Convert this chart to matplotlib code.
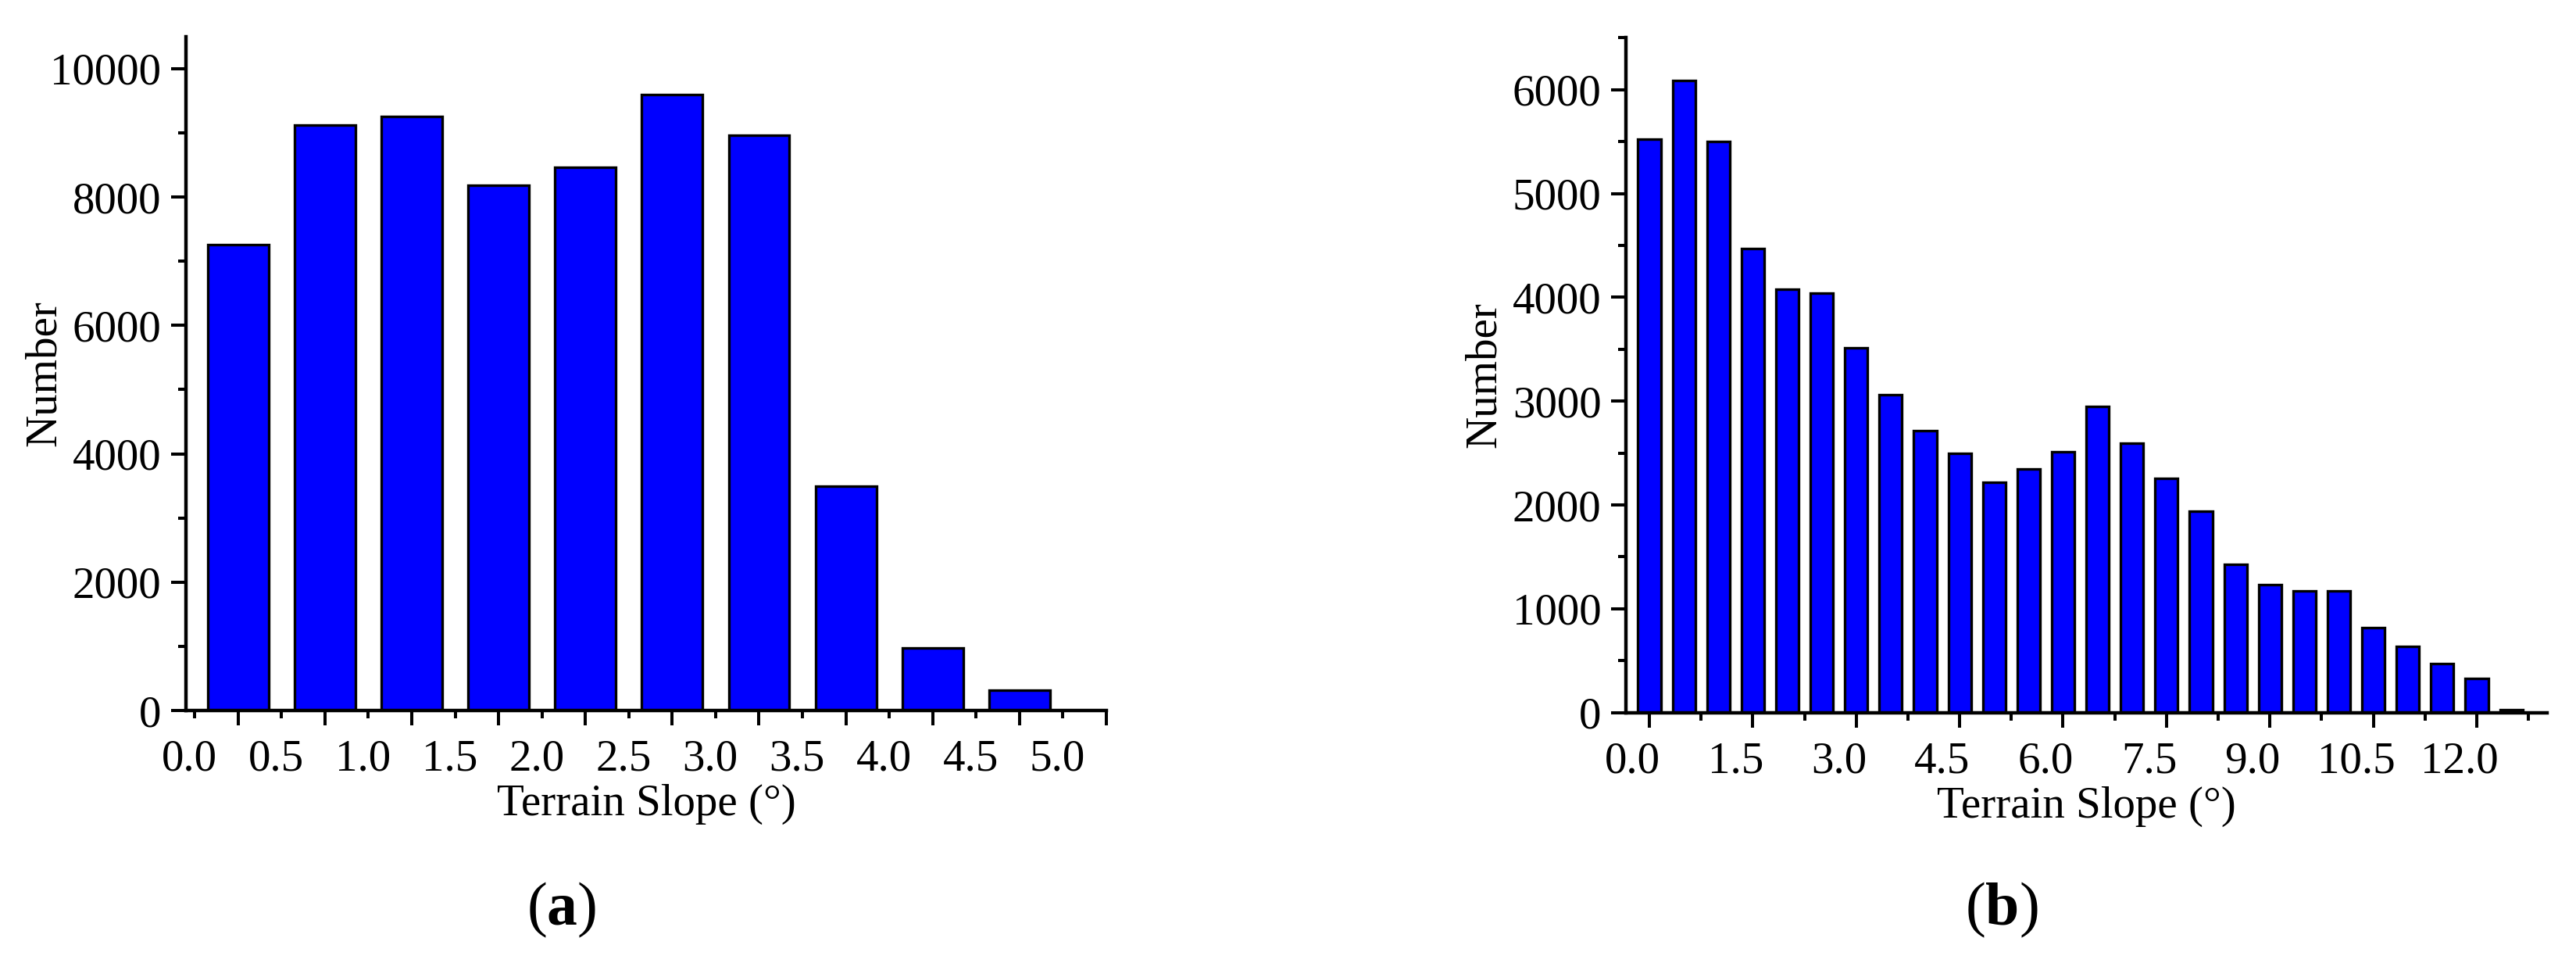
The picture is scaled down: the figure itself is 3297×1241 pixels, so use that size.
import matplotlib
matplotlib.use("Agg")
import matplotlib.pyplot as plt
from matplotlib.transforms import offset_copy

plt.rcParams['font.family'] = ['Liberation Serif', 'DejaVu Serif']
plt.rcParams['mathtext.fontset'] = 'custom'
plt.rcParams['mathtext.rm'] = 'Liberation Serif'
plt.rcParams['mathtext.bf'] = 'Liberation Serif:bold'

# (a) terrain slope histogram, 0.5 degree bins
slope_a = [0.25, 0.75, 1.25, 1.75, 2.25, 2.75, 3.25, 3.75, 4.25, 4.75]
count_a = [7260, 9120, 9250, 8180, 8460, 9600, 8960, 3490, 970, 320]
labels_a = ['0.0', '0.5', '1.0', '1.5', '2.0', '2.5', '3.0', '3.5', '4.0', '4.5', '5.0']

# (b) terrain slope histogram, 0.5 degree bins
slope_b = [0.25, 0.75, 1.25, 1.75, 2.25, 2.75, 3.25, 3.75, 4.25, 4.75, 5.25, 5.75, 6.25,
           6.75, 7.25, 7.75, 8.25, 8.75, 9.25, 9.75, 10.25, 10.75, 11.25, 11.75, 12.25, 12.75]
count_b = [5520, 6090, 5500, 4470, 4080, 4040, 3510, 3065, 2715, 2500, 2215, 2345, 2515,
           2950, 2595, 2255, 1940, 1430, 1235, 1170, 1170, 820, 640, 475, 330, 30]
labels_b = ['0.0', '1.5', '3.0', '4.5', '6.0', '7.5', '9.0', '10.5', '12.0']

FS = 41
W, H = 3297, 1241
fig = plt.figure(figsize=(W / 100, H / 100), dpi=100)


def make_axes(rect, slopes, counts, labels, label_step, bar_w, xlim, ylim,
              yticks, ymajor, long_ticks, short_ticks, label_dx):
    ax = fig.add_axes(rect)
    ax.bar(slopes, counts, width=bar_w, color='#0000FF', edgecolor='black',
           linewidth=2.4, zorder=2)
    ax.set_xlim(*xlim)
    ax.set_ylim(*ylim)
    for s in ('top', 'right'):
        ax.spines[s].set_visible(False)
    for s in ('left', 'bottom'):
        ax.spines[s].set_linewidth(3.2)

    # x tick marks: long at bar centres, short in between
    ax.set_xticks(long_ticks)
    ax.set_xticks(short_ticks, minor=True)
    ax.tick_params(axis='x', which='major', length=13.7, width=2.9, labelbottom=False)
    ax.tick_params(axis='x', which='minor', length=7.2, width=2.9, labelbottom=False)

    # x labels placed at their slope values
    tr = offset_copy(ax.get_xaxis_transform(), fig=fig, x=label_dx, y=-77, units='dots')
    for i, lab in enumerate(labels):
        ax.text(i * label_step, 0, lab, transform=tr, ha='center', va='baseline',
                fontsize=FS)

    ax.set_yticks(yticks)
    ax.set_yticks(ymajor, minor=True)
    ax.tick_params(axis='y', which='major', length=13.7, width=2.9, pad=9, labelsize=FS)
    ax.tick_params(axis='y', which='minor', length=7.2, width=2.9)

    ax.set_xlabel('Terrain Slope (°)', fontsize=FS, va='baseline')
    ax.xaxis.set_label_coords(0.5, -0.155)
    ax.set_ylabel('Number', fontsize=FS, va='baseline')
    ax.yaxis.set_label_coords(-0.142, 0.5)
    return ax


# left panel
make_axes([238 / W, (H - 909) / H, 1178 / W, 862.3 / H],
          slope_a, count_a, labels_a, 0.5, 0.35, (-0.05, 5.25), (0, 10500),
          [0, 2000, 4000, 6000, 8000, 10000], list(range(1000, 10001, 2000)),
          [0.25 + 0.5 * k for k in range(11)], [0.5 * k for k in range(11)], -7)

# right panel
make_axes([2081 / W, (H - 911.7) / H, 1179 / W, 863.4 / H],
          slope_b, count_b, labels_b, 1.5, 0.33, (-0.09, 13.27), (0, 6500),
          [0, 1000, 2000, 3000, 4000, 5000, 6000], [500 + 1000 * k for k in range(7)],
          [0.25 + 1.5 * k for k in range(9)], [1.0 + 1.5 * k for k in range(9)], 0)

fig.text(719 / W, (H - 1164) / H, r'($\mathbf{a}$)', fontsize=56, ha='center', va='center')
fig.text(2562 / W, (H - 1164) / H, r'($\mathbf{b}$)', fontsize=56, ha='center', va='center')

fig.savefig('out.png', dpi=100, facecolor='white')
